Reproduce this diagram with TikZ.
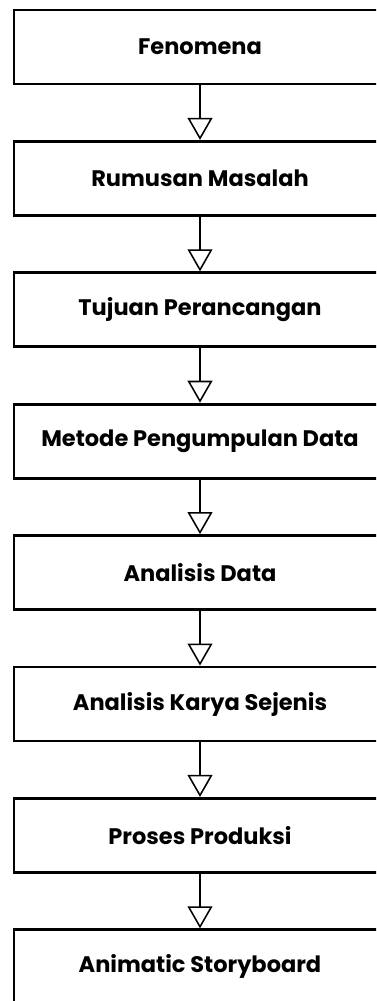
\documentclass[tikz,border=0pt]{standalone}
\usepackage{fontspec}
\setmainfont{Poppins}
\usepackage{tikz}
\usetikzlibrary{arrows.meta}

\begin{document}
\begin{tikzpicture}[every node/.style={rectangle, draw=black, fill=white, line width=2.1pt, minimum width=9.3cm, minimum height=1.85cm, inner sep=0pt, font=\bfseries\fontsize{16}{19}\selectfont}, every edge/.style={draw=black, line width=1.1pt, -{Triangle[open, length=0.55cm, width=0.62cm]}}]
				\fill[white] (0,0) rectangle (9.4,-25.025);
				\clip (0,0) rectangle (9.4,-25.025);
				
				\node (fenomena) at (5,-1.175){Fenomena};
				\node (rumusan) at (5,-4.46){Rumusan Masalah};
				\node (tujuan) at (5,-7.745){Tujuan Perancangan};
				\node (metode) at (5,-11.03){Metode Pengumpulan Data};
				\node (analisis) at (5,-14.315){Analisis Data};
				\node (karya) at (5,-17.6){Analisis Karya Sejenis};
				\node (produksi) at (5,-20.885){Proses Produksi};
				\node (animatic) at (5,-24.17){Animatic Storyboard};
				
				\path (fenomena) edge (rumusan);
				\path (rumusan) edge (tujuan);
				\path (tujuan) edge (metode);
				\path (metode) edge (analisis);
				\path (analisis) edge (karya);
				\path (karya) edge (produksi);
				\path (produksi) edge (animatic);
				\end{tikzpicture}
\end{document}
